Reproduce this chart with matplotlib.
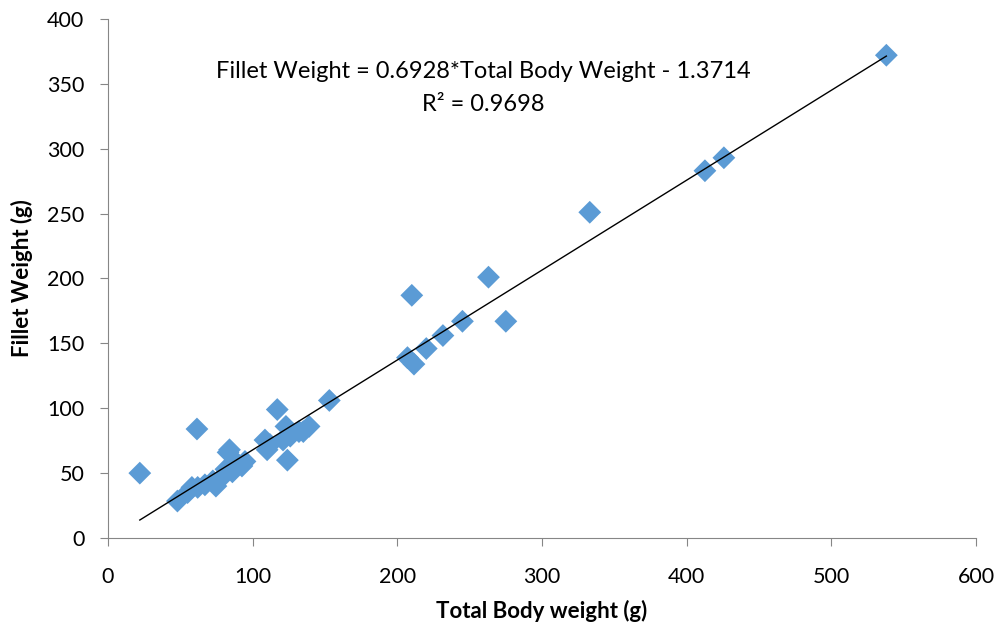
import numpy as np
import matplotlib.pyplot as plt

# Total body weight (g) and fillet weight (g)
total_weight = [22, 48, 55, 58, 62, 61.5, 67, 72.5, 74.6, 79, 81.5, 83, 84, 85.7, 86,
                89, 92.6, 94.7, 108.5, 110, 112, 117, 121, 123, 124, 126, 132, 135,
                139, 153, 207, 210, 211.5, 220, 231.5, 245, 263, 275, 333, 412.6,
                425.7, 538]
fillet_weight = [50, 28.5, 35, 39, 39, 84, 41, 44, 40, 47, 53, 66, 68, 55.5, 51,
                 58, 55.5, 59, 75.5, 68, 72, 99, 75.5, 86, 60, 78.5, 82, 82,
                 86, 106, 139, 187, 134, 146, 156, 167, 201, 167, 251, 283,
                 293, 372]

slope, intercept = 0.6928, -1.3714

plt.rcParams['font.family'] = ['Lato', 'DejaVu Sans']

fig = plt.figure(figsize=(9.97, 6.30), dpi=100)
ax = fig.add_axes([0.1083, 0.146, 0.8707, 0.824])

ax.scatter(total_weight, fillet_weight, marker='D', s=135, color='#5B9BD5',
           edgecolors='none', zorder=3)

xs = np.array([min(total_weight), max(total_weight)])
ax.plot(xs, slope * xs + intercept, color='black', linewidth=1, zorder=4)

ax.set_xlim(0, 600)
ax.set_ylim(0, 400)
ax.set_xticks(range(0, 601, 100))
ax.set_yticks(range(0, 401, 50))

for side in ['top', 'right']:
    ax.spines[side].set_visible(False)
for side in ['left', 'bottom']:
    ax.spines[side].set_color('#868686')
ax.tick_params(axis='both', direction='out', length=6, color='#868686',
               labelsize=15.5, labelcolor='black')
ax.tick_params(axis='x', pad=15)
ax.tick_params(axis='y', pad=11)

ax.set_xlabel('Total Body weight (g)', fontsize=16, fontweight='bold', labelpad=9)
ax.set_ylabel('Fillet Weight (g)', fontsize=16, fontweight='bold', labelpad=10)

ax.text(0.432, 0.898, 'Fillet Weight = 0.6928*Total Body Weight - 1.3714',
        transform=ax.transAxes, ha='center', va='center', fontsize=17)
ax.text(0.432, 0.836, 'R² = 0.9698', transform=ax.transAxes,
        ha='center', va='center', fontsize=17)

fig.savefig('out.png', dpi=100)
